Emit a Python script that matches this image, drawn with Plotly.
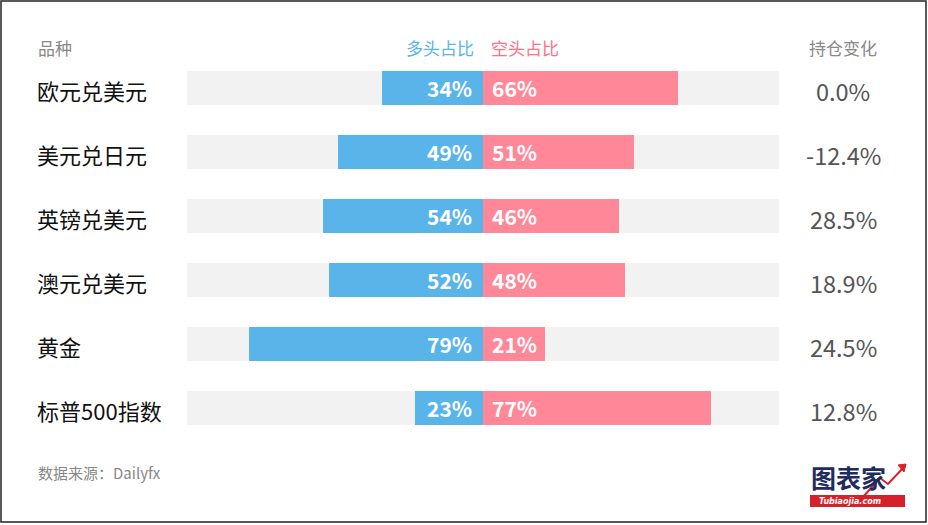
import plotly.graph_objects as go

categories = ["欧元兑美元", "美元兑日元", "英镑兑美元", "澳元兑美元", "黄金", "标普500指数"]
long_pct = [34, 49, 54, 52, 79, 23]
short_pct = [66, 51, 46, 48, 21, 77]
position_change = [0.0, -12.4, 28.5, 18.9, 24.5, 12.8]

W, H = 928, 525
FONT = "Noto Sans CJK SC, Microsoft YaHei, sans-serif"
BLUE = "#58b4e9"
PINK = "#ff8898"
GRAY_BG = "#f2f2f2"

idx = list(range(len(categories)))
fig = go.Figure()

# gray background bars
fig.add_trace(go.Bar(y=idx, x=[200] * len(idx), base=[-100] * len(idx), orientation="h",
                     marker=dict(color=GRAY_BG, line=dict(width=0)), width=0.53,
                     hoverinfo="skip", showlegend=False))
# long bars (left)
fig.add_trace(go.Bar(y=idx, x=long_pct, base=[-v for v in long_pct], orientation="h",
                     marker=dict(color=BLUE, line=dict(width=0)), width=0.53,
                     name="多头占比", showlegend=False))
# short bars (right)
fig.add_trace(go.Bar(y=idx, x=short_pct, base=[0] * len(idx), orientation="h",
                     marker=dict(color=PINK, line=dict(width=0)), width=0.53,
                     name="空头占比", showlegend=False))

ann = []
for i, (c, l, s, ch) in enumerate(zip(categories, long_pct, short_pct, position_change)):
    ann.append(dict(x=35 / W, xref="paper", y=i, yref="y", yshift=-2, text=c, showarrow=False,
                    xanchor="left", yanchor="middle", font=dict(family=FONT, size=22, color="#111")))
    ann.append(dict(x=-3.0, xref="x", y=i, yref="y", text=f"<b>{l}%</b>", showarrow=False,
                    xanchor="right", yanchor="middle", font=dict(family=FONT, size=21, color="white")))
    ann.append(dict(x=2.4, xref="x", y=i, yref="y", text=f"<b>{s}%</b>", showarrow=False,
                    xanchor="left", yanchor="middle", font=dict(family=FONT, size=21, color="white")))
    ann.append(dict(x=843 / W, xref="paper", y=i, yref="y", yshift=-3, text=f"{ch:.1f}%", showarrow=False,
                    xanchor="center", yanchor="middle", font=dict(family=FONT, size=23.5, color="#555")))

hy = 1 - 47 / H
HS = 17
ann += [
    dict(x=36 / W, xref="paper", y=hy, yref="paper", text="品种", showarrow=False,
         xanchor="left", yanchor="middle", font=dict(family=FONT, size=HS, color="#888")),
    dict(x=476 / W, xref="paper", y=hy, yref="paper", text="多头占比", showarrow=False,
         xanchor="right", yanchor="middle", font=dict(family=FONT, size=HS, color=BLUE)),
    dict(x=489 / W, xref="paper", y=hy, yref="paper", text="空头占比", showarrow=False,
         xanchor="left", yanchor="middle", font=dict(family=FONT, size=HS, color="#ff6f86")),
    dict(x=843 / W, xref="paper", y=hy, yref="paper", text="持仓变化", showarrow=False,
         xanchor="center", yanchor="middle", font=dict(family=FONT, size=HS, color="#888")),
    dict(x=36 / W, xref="paper", y=1 - 472 / H, yref="paper", text="数据来源：Dailyfx", showarrow=False,
         xanchor="left", yanchor="middle", font=dict(family=FONT, size=15, color="#888")),
    # logo
    dict(x=848 / W, xref="paper", y=1 - 477 / H, yref="paper", text="<b>图表家</b>", showarrow=False,
         xanchor="center", yanchor="middle", font=dict(family=FONT, size=25, color="#1f2d5c")),
    dict(x=850 / W, xref="paper", y=1 - 501 / H, yref="paper", text="<b><i>Tubiaojia.com</i></b>", showarrow=False,
         xanchor="center", yanchor="middle", font=dict(family="DejaVu Sans", size=8, color="white")),
]

shapes = [
    dict(type="rect", xref="paper", yref="paper", x0=1 / W, x1=926 / W, y0=1 - 522 / H, y1=1 - 1 / H,
         line=dict(color="#222", width=1.5), fillcolor="rgba(0,0,0,0)", layer="below"),
    dict(type="rect", xref="paper", yref="paper", x0=810 / W, x1=905 / W, y0=1 - 507 / H, y1=1 - 495 / H,
         line=dict(width=0), fillcolor="#d6202a", layer="below"),
    dict(type="path", xref="paper", yref="paper",
         path=f"M {862/W} {1-498/H} L {880/W} {1-478/H} L {888/W} {1-484/H} L {905/W} {1-466/H}",
         line=dict(color="#d6202a", width=2)),
    dict(type="path", xref="paper", yref="paper",
         path=f"M {898/W} {1-465/H} L {906/W} {1-464/H} L {904/W} {1-472/H} Z",
         line=dict(color="#d6202a", width=1), fillcolor="#d6202a"),
]

top_val = -88 / 64
bot_val = (H - 88) / 64
fig.update_layout(
    width=W, height=H, barmode="overlay", bargap=0,
    margin=dict(l=0, r=0, t=0, b=0),
    paper_bgcolor="white", plot_bgcolor="white",
    xaxis=dict(domain=[187 / W, 779 / W], range=[-100, 100], visible=False, fixedrange=True),
    yaxis=dict(domain=[0, 1], range=[bot_val, top_val], visible=False, fixedrange=True),
    annotations=ann, shapes=shapes,
)

fig.write_html("out.html", config={"displayModeBar": False},
               post_script="document.body.style.margin='0px';document.body.style.overflow='hidden';")
